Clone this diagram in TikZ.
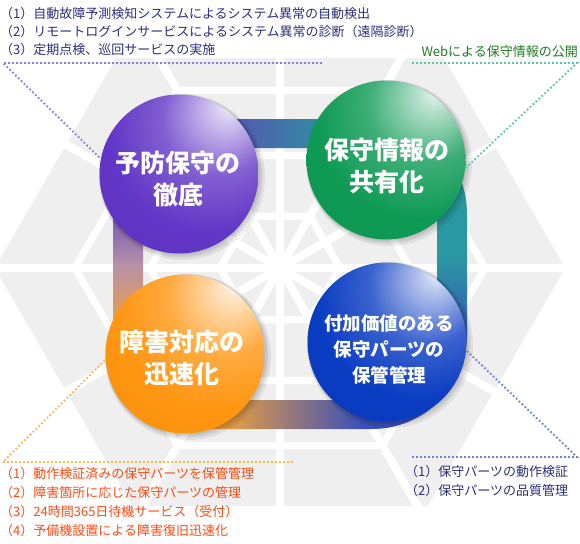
\documentclass[tikz,border=0pt]{standalone}
\usepackage{fontspec}
\newfontfamily\jp{Noto Sans CJK JP}
\definecolor{webgray}{HTML}{EFEFEF}
\definecolor{ringpurple}{HTML}{5E4AB4}
\definecolor{ringteal}{HTML}{2A98A0}
\definecolor{ringorange}{HTML}{F2A23A}
\definecolor{ringblue}{HTML}{3A50B8}
\definecolor{ringmauve}{HTML}{B890A8}
\definecolor{ballpurple}{HTML}{6236C6}
\definecolor{ballgreen}{HTML}{0E9A55}
\definecolor{ballblue}{HTML}{0A3CC2}
\definecolor{ballorange}{HTML}{FF9510}
\definecolor{navytext}{HTML}{2E2E7E}
\definecolor{redtext}{HTML}{FF4B14}
\definecolor{greentext}{HTML}{1E7E1E}
\definecolor{dotpurple}{HTML}{8C7FE0}
\definecolor{dotgreen}{HTML}{5CC8A0}
\definecolor{dotblue}{HTML}{6F7FE0}
\definecolor{dotorange}{HTML}{FFB850}
\colorlet{ballc}{black}
\pgfdeclarehorizontalshading{ringtop}{100bp}{color(0bp)=(ringpurple); color(38bp)=(ringpurple); color(58bp)=(ringteal); color(100bp)=(ringteal)}
\pgfdeclarehorizontalshading{ringbot}{100bp}{color(0bp)=(ringorange); color(40bp)=(ringorange); color(60bp)=(ringblue); color(100bp)=(ringblue)}
\pgfdeclareverticalshading{ringleft}{100bp}{color(0bp)=(ringorange); color(25bp)=(ringorange); color(50bp)=(ringmauve); color(75bp)=(ringpurple); color(100bp)=(ringpurple)}
\pgfdeclareverticalshading{ringright}{100bp}{color(0bp)=(ringblue); color(20bp)=(ringblue); color(50bp)=(ringteal); color(100bp)=(ringteal)}
\pgfdeclareradialshading[ballc]{gloss}{\pgfpoint{16bp}{22bp}}{color(0bp)=(ballc!8!white); color(5bp)=(ballc!30!white); color(18bp)=(ballc!80!white); color(32bp)=(ballc); color(75bp)=(ballc!92!black); color(85bp)=(ballc!88!black)}
\tikzset{
  ballsty/.style={circle, minimum size=159pt, inner sep=0pt, /utils/exec={\colorlet{ballc}{#1}}, shade, shading=gloss},
  bigtxt/.style={font=\jp\bfseries\fontsize{25}{32}\selectfont, align=center, text=white, inner sep=0pt},
  smalltxt/.style={font=\jp\bfseries\fontsize{18.5}{26}\selectfont, align=center, text=white, inner sep=0pt},
  dotline/.style={line width=1.8pt, dash pattern=on 1.8pt off 2.2pt, draw=#1},
  infotext/.style={font=\jp\fontsize{13}{13}\selectfont, anchor=base west, inner sep=0pt, text=#1},
  ballshadow/.style={fill=black, opacity=0.07},
  webline/.style={draw=white, line width=8pt}
}
\begin{document}
\begin{tikzpicture}[x=1pt,y=-1pt]
\useasboundingbox[fill=white] (0,0) rectangle (580,543);
% background web
\begin{scope}
  \clip (0,58) rectangle (580,505);
  \fill[webgray] (-5,268) -- (137.5,21) -- (422.5,21) -- (565,268) -- (422.5,515) -- (137.5,515) -- cycle;
  \begin{scope}[shift={(280,268)}]
    \foreach \a in {0,30,...,330} \draw[webline] (0,0) -- (\a:340pt);
    \foreach \r in {60,130,205} \draw[webline, line width=7pt] (0:\r pt) -- (60:\r pt) -- (120:\r pt) -- (180:\r pt) -- (240:\r pt) -- (300:\r pt) -- cycle;
  \end{scope}
\end{scope}
% ring
\begin{scope}[even odd rule]
  \clip {[rounded corners=95pt] (113,119) rectangle (467,429)} {[rounded corners=66pt] (143,148) rectangle (437,400)};
  \shade[shading=ringtop] (110,115) rectangle (470,200);
  \shade[shading=ringleft] (110,200) rectangle (290,330);
  \shade[shading=ringright] (290,180) rectangle (470,330);
  \shade[shading=ringbot] (110,330) rectangle (470,432);
\end{scope}
% ball shadows
\foreach \cx/\cy in {179/174, 386/160, 387/342, 185/354} {
  \fill[ballshadow] (\cx+3,\cy+3) circle (83pt);
  \fill[ballshadow] (\cx+2,\cy+2) circle (81.5pt);
  \fill[ballshadow] (\cx+1,\cy+1) circle (80.5pt);
}
% balls
\node[ballsty=ballpurple] (purple) at (179,174) {};
\node[ballsty=ballgreen] (green) at (386,160) {};
\node[ballsty=ballblue] (blue) at (387,342) {};
\node[ballsty=ballorange] (orange) at (185,354) {};
% ball texts
\node[bigtxt] (purpleT) at (178,179) {予防保守の\\徹底};
\node[bigtxt] (greenT) at (387,166) {保守情報の\\共有化};
\node[bigtxt] (orangeT) at (182,357.5) {障害対応の\\迅速化};
\node[smalltxt] (blueT) at (389,349) {付加価値のある\\保守パーツの\\保管管理};
% dotted connectors
\coordinate (pA) at (322,63); \coordinate (pB) at (3,63);
\draw[dotline=dotpurple] (pA) -- (pB) -- (purple.169);
\coordinate (gA) at (412,63); \coordinate (gB) at (577,63);
\draw[dotline=dotgreen] (gA) -- (gB) -- (green.-6);
\coordinate (bA) at (412,457); \coordinate (bB) at (577,457);
\draw[dotline=dotblue] (bA) -- (bB) -- (blue.-6);
\coordinate (oA) at (293,462); \coordinate (oB) at (3,462);
\draw[dotline=dotorange] (oA) -- (oB) -- (orange.184);
% texts
\node[infotext=navytext] (top1) at (0,19) {（1）自動故障予測検知システムによるシステム異常の自動検出};
\node[infotext=navytext] (top2) at (0,37) {（2）リモートログインサービスによるシステム異常の診断（遠隔診断）};
\node[infotext=navytext] (top3) at (0,55) {（3）定期点検、巡回サービスの実施};
\node[infotext=greentext, anchor=base east] (web) at (578,56.5) {Webによる保守情報の公開};
\node[infotext=redtext] (bl1) at (0,478) {（1）動作検証済みの保守パーツを保管管理};
\node[infotext=redtext] (bl2) at (0,497.5) {（2）障害箇所に応じた保守パーツの管理};
\node[infotext=redtext] (bl3) at (0,516.5) {（3）24時間365日待機サービス（受付）};
\node[infotext=redtext] (bl4) at (0,535) {（4）予備機設置による障害復旧迅速化};
\node[infotext=navytext] (br1) at (405,476.5) {（1）保守パーツの動作検証};
\node[infotext=navytext] (br2) at (405,495) {（2）保守パーツの品質管理};
\end{tikzpicture}
\end{document}
